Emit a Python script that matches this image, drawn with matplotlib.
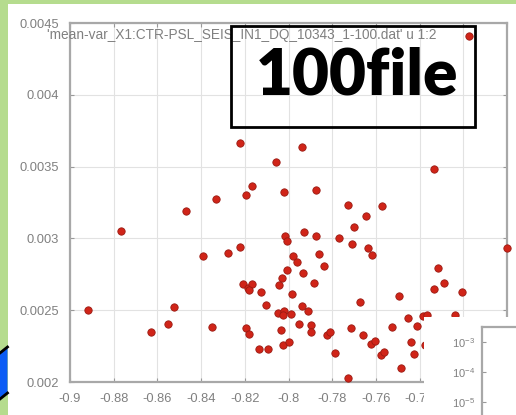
import matplotlib
matplotlib.use('Agg')
import matplotlib.pyplot as plt
import matplotlib.patches as mpatches
import matplotlib.lines as mlines

plt.rcParams['font.family'] = ['Liberation Sans', 'DejaVu Sans']
plt.rcParams['mathtext.fontset'] = 'dejavusans'

# mean vs variance, one point per file
mean_x = [-0.8916, -0.8768, -0.8629, -0.8550, -0.8523, -0.8469, -0.8390, -0.8350, -0.8332, -0.8275,
          -0.8222, -0.7938, -0.8055, -0.8168, -0.8193, -0.8019, -0.7873, -0.7726, -0.7644, -0.7702,
          -0.7930, -0.7876, -0.8016, -0.8008, -0.7767, -0.7709, -0.7638, -0.7619, -0.8222, -0.7978,
          -0.7963, -0.7859, -0.7838, -0.8008, -0.7935, -0.8031, -0.8043, -0.7882, -0.8207, -0.8187,
          -0.8166, -0.8181, -0.8126, -0.7985, -0.7674, -0.8103, -0.7940, -0.7912, -0.8047, -0.8019,
          -0.8024, -0.7990, -0.7950, -0.7897, -0.7897, -0.8196, -0.8181, -0.8034, -0.7825, -0.7809,
          -0.7716, -0.7658, -0.7624, -0.8134, -0.8095, -0.8027, -0.7996, -0.7787, -0.7726, -0.7334,
          -0.7573, -0.7001, -0.7314, -0.7287, -0.7334, -0.7207, -0.7493, -0.7455, -0.7386, -0.7367,
          -0.7237, -0.7413, -0.7528, -0.7604, -0.7440, -0.7424, -0.7485, -0.7375, -0.7577, -0.7563]
var_y = [0.002501, 0.003053, 0.002350, 0.002402, 0.002520, 0.003193, 0.002877, 0.002383, 0.003276, 0.002896,
         0.003666, 0.003634, 0.003534, 0.003362, 0.003302, 0.003325, 0.003337, 0.003232, 0.003158, 0.003079,
         0.003044, 0.003014, 0.003019, 0.002982, 0.003005, 0.002959, 0.002931, 0.002884, 0.002938, 0.002879,
         0.002838, 0.002889, 0.002805, 0.002777, 0.002759, 0.002722, 0.002675, 0.002687, 0.002680, 0.002657,
         0.002682, 0.002640, 0.002629, 0.002611, 0.002557, 0.002536, 0.002529, 0.002497, 0.002478, 0.002497,
         0.002466, 0.002473, 0.002406, 0.002397, 0.002346, 0.002378, 0.002332, 0.002360, 0.002327, 0.002350,
         0.002374, 0.002327, 0.002265, 0.002228, 0.002228, 0.002258, 0.002281, 0.002204, 0.002026, 0.003481,
         0.003225, 0.002935, 0.002796, 0.002692, 0.002647, 0.002629, 0.002601, 0.002448, 0.002460, 0.002466,
         0.002466, 0.002390, 0.002385, 0.002285, 0.002276, 0.002197, 0.002100, 0.002258, 0.002188, 0.002211]

x_ticks = [-0.9, -0.88, -0.86, -0.84, -0.82, -0.8, -0.78, -0.76, -0.74, -0.72, -0.7]
x_labels = ['-0.9', '-0.88', '-0.86', '-0.84', '-0.82', '-0.8', '-0.78', '-0.76', '-0.74', '', '']  # last two hidden by inset
y_ticks = [0.002, 0.0025, 0.003, 0.0035, 0.004, 0.0045]
y_labels = ['0.002', '0.0025', '0.003', '0.0035', '0.004', '0.0045']
key_label = "'mean-var_X1:CTR-PSL_SEIS_IN1_DQ_10343_1-100.dat' u 1:2"
inset_ticks = [1e-3, 1e-4, 1e-5]

W, H = 516, 415
fig = plt.figure(figsize=(W / 100, H / 100), dpi=100)
fig.patch.set_facecolor('white')

ax = fig.add_axes([70 / W, 1 - 382 / H, 437 / W, 359 / H])
ax.scatter(mean_x, var_y, s=28, color='#d02418', edgecolors='#9a1a12', linewidths=0.6,
           clip_on=False, zorder=3, label=key_label)
ax.set_xlim(-0.9, -0.7)
ax.set_ylim(0.002, 0.0045)
ax.set_xticks(x_ticks)
ax.set_xticklabels(x_labels)
ax.set_yticks(y_ticks)
ax.set_yticklabels(y_labels)
ax.grid(True, color='#e2e2e2', linewidth=0.8)
ax.set_axisbelow(True)
ax.tick_params(direction='in', length=3, top=True, right=True, color='#999999',
               labelcolor='#808080', labelsize=9.3, pad=8)
for sp in ax.spines.values():
    sp.set_color('#a8a8a8')
    sp.set_linewidth(1.6)
ax.legend(loc='upper right', bbox_to_anchor=(1 - 24 / 437, 1.0), markerfirst=False,
          frameon=False, fontsize=9.8, labelcolor='#808080', handlelength=1.2,
          handletextpad=1.8, borderaxespad=0.2, borderpad=0.2, scatterpoints=1)

# green frame of the slide
green = '#b5dc8e'
fig.patches.append(mpatches.Rectangle((0, 0), 7.5 / W, 1, transform=fig.transFigure,
                                      facecolor=green, edgecolor='none', zorder=1))
fig.patches.append(mpatches.Rectangle((0, 1 - 4 / H), 1, 4 / H, transform=fig.transFigure,
                                      facecolor=green, edgecolor='none', zorder=1))
# blue arrow peeking in at the left edge
fig.patches.append(mpatches.Polygon([(0, 1 - 353 / H), (7.5 / W, 1 - 347 / H), (7.5 / W, 1 - 393 / H),
                                     (0, 1 - 399 / H)], closed=True, transform=fig.transFigure,
                                    facecolor='#0a5cf5', edgecolor='none', zorder=2))
fig.lines.append(mlines.Line2D([0, 7.5 / W], [1 - 353 / H, 1 - 347 / H], transform=fig.transFigure,
                               color='black', linewidth=2, zorder=3))
fig.lines.append(mlines.Line2D([0, 7.5 / W], [1 - 399 / H, 1 - 393 / H], transform=fig.transFigure,
                               color='black', linewidth=2, zorder=3))

# "100file" box
fig.patches.append(mpatches.Rectangle((231 / W, 1 - 127 / H), 244 / W, 101 / H,
                                      transform=fig.transFigure, fill=False,
                                      edgecolor='black', linewidth=2, zorder=5))
fig.text(357 / W, 1 - 76 / H, '100file', fontsize=46, fontweight='heavy', family='Lato',
         ha='center', va='center', color='black', zorder=6)

# overlapping inset plot at the bottom right
fig.patches.append(mpatches.Rectangle((424 / W, 0), 1, 1 - 317 / H, transform=fig.transFigure,
                                      facecolor='white', edgecolor='none', zorder=5))
ax2 = fig.add_axes([482 / W, -15 / H, 70 / W, 103 / H], zorder=6)
ax2.set_yscale('log')
ax2.set_ylim(10 ** -5.93, 10 ** -2.5)
ax2.set_xlim(0, 1)
ax2.set_yticks(inset_ticks)
ax2.minorticks_off()
ax2.set_xticks([])
ax2.tick_params(direction='in', length=3, color='#999999', labelcolor='#808080',
                labelsize=8, pad=5)
for sp in ax2.spines.values():
    sp.set_color('#a8a8a8')
    sp.set_linewidth(1.6)

fig.savefig('out.png', dpi=100)
